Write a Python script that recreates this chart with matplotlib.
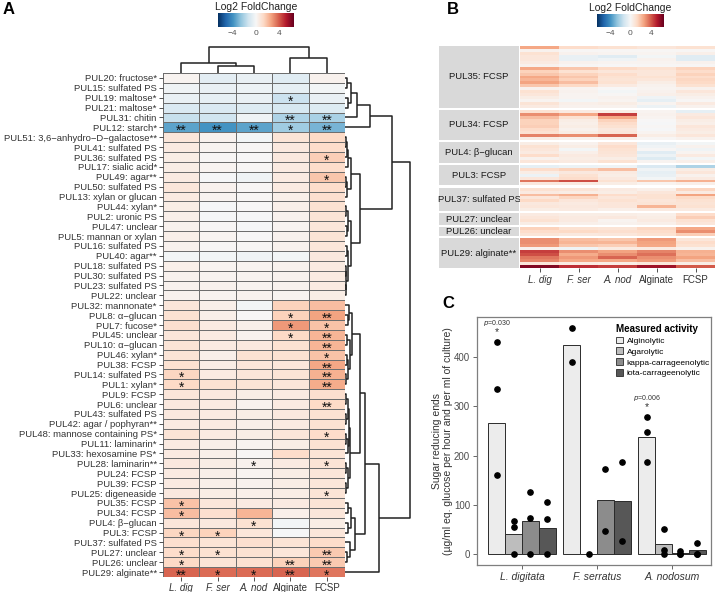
import numpy as np
import matplotlib
matplotlib.use("Agg")
import matplotlib.pyplot as plt
from matplotlib.colors import Normalize
from matplotlib.patches import Patch

plt.rcParams['font.family'] = ['Liberation Sans', 'DejaVu Sans']

# ---------------- panel A data ----------------
pul_labels = [
    "PUL20: fructose*", "PUL15: sulfated PS", "PUL19: maltose*", "PUL21: maltose*",
    "PUL31: chitin", "PUL12: starch*", "PUL51: 3,6\u2212anhydro\u2212D\u2212galactose**",
    "PUL41: sulfated PS", "PUL36: sulfated PS", "PUL17: sialic acid*", "PUL49: agar**",
    "PUL50: sulfated PS", "PUL13: xylan or glucan", "PUL44: xylan*", "PUL2: uronic PS",
    "PUL47: unclear", "PUL5: mannan or xylan", "PUL16: sulfated PS", "PUL40: agar**",
    "PUL18: sulfated PS", "PUL30: sulfated PS", "PUL23: sulfated PS", "PUL22: unclear",
    "PUL32: mannonate*", "PUL8: \u03b1\u2212glucan", "PUL7: fucose*", "PUL45: unclear",
    "PUL10: \u03b1\u2212glucan", "PUL46: xylan*", "PUL38: FCSP", "PUL14: sulfated PS",
    "PUL1: xylan*", "PUL9: FCSP", "PUL6: unclear", "PUL43: sulfated PS",
    "PUL42: agar / pophyran**", "PUL48: mannose containing PS*", "PUL11: laminarin*",
    "PUL33: hexosamine PS*", "PUL28: laminarin**", "PUL24: FCSP", "PUL39: FCSP",
    "PUL25: digeneaside", "PUL35: FCSP", "PUL34: FCSP", "PUL4: \u03b2\u2212glucan", "PUL3: FCSP",
    "PUL37: sulfated PS", "PUL27: unclear", "PUL26: unclear", "PUL29: alginate**",
]
conditions = ["L. dig", "F. ser", "A. nod", "Alginate", "FCSP"]
lfc_a = np.array([
    [0.2, -0.7, -0.5, -0.8, 0.3],
    [-0.3, -0.5, -0.4, -0.6, -0.2],
    [-0.5, -0.6, -0.5, -1.4, -0.5],
    [-1.0, -1.0, -0.9, -1.1, -0.9],
    [-1.5, -1.3, -0.3, -2.0, -2.1],
    [-3.5, -3.9, -3.5, -2.3, -3.0],
    [0.8, 0.3, -0.2, 0.9, 1.3],
    [0.6, 0.2, 0.1, 0.7, 1.2],
    [0.5, 0.1, 0.0, 0.7, 1.6],
    [0.5, 0.2, 0.1, 0.6, 1.2],
    [0.6, -0.1, -0.3, 0.6, 1.8],
    [0.8, 0.3, 0.1, 0.6, 1.2],
    [0.6, 0.2, 0.1, 0.4, 1.1],
    [0.5, -0.1, 0.0, 0.4, 1.0],
    [0.4, -0.1, -0.1, 0.3, 0.9],
    [0.3, 0.1, -0.1, 0.2, 0.8],
    [0.4, 0.2, 0.0, 0.3, 0.9],
    [0.3, 0.1, 0.1, 0.3, 0.8],
    [-0.2, -0.2, -0.3, -0.2, 0.7],
    [0.4, 0.2, 0.2, 0.3, 0.6],
    [0.3, 0.2, 0.2, 0.3, 0.6],
    [0.3, 0.3, 0.2, 0.3, 0.6],
    [0.3, 0.2, 0.3, 0.2, 0.5],
    [0.8, 0.4, -0.2, 1.5, 2.0],
    [1.0, 0.4, 0.0, 1.5, 2.6],
    [1.1, 0.6, 0.4, 2.8, 1.9],
    [0.8, 0.6, 0.3, 1.3, 2.2],
    [0.9, 0.6, 0.7, 1.0, 2.2],
    [0.9, 0.4, 1.0, 1.0, 1.9],
    [1.0, 0.5, 0.8, 0.8, 2.5],
    [1.4, 0.6, 0.8, 0.9, 2.3],
    [1.3, 1.0, 0.9, 0.8, 2.4],
    [0.8, 0.7, 0.5, 0.6, 1.1],
    [0.7, 0.6, 0.3, 0.6, 1.3],
    [0.7, 0.6, 0.5, 0.7, 1.0],
    [0.6, 0.6, 0.4, 0.6, 1.0],
    [0.9, 0.6, 0.5, 0.8, 1.2],
    [0.6, 0.4, 0.2, 0.5, 1.0],
    [0.6, 0.4, 0.1, 1.2, 0.9],
    [0.7, 0.5, 0.3, 0.6, 0.9],
    [0.6, 0.4, 0.2, 0.5, 0.8],
    [0.6, 0.4, 0.3, 0.5, 0.8],
    [0.7, 0.5, 0.4, 0.5, 0.9],
    [1.9, 0.8, 0.6, 0.6, 0.9],
    [2.0, 1.1, 2.2, 0.4, 0.8],
    [0.8, 0.7, 1.0, -0.2, 0.5],
    [1.4, 1.5, 0.8, -0.1, 0.8],
    [1.1, 0.9, 1.1, 0.9, 1.2],
    [1.2, 1.0, 1.0, 0.8, 1.7],
    [1.3, 0.9, 1.0, 1.5, 1.7],
    [3.8, 3.7, 3.7, 3.8, 3.5],
])
# significance marks per cell (row: {column: mark})
sig_a = {
    2: {3: "*"}, 4: {3: "**", 4: "**"}, 5: {0: "**", 1: "**", 2: "**", 3: "*", 4: "**"},
    8: {4: "*"}, 10: {4: "*"}, 24: {3: "*", 4: "**"}, 25: {3: "*", 4: "*"},
    26: {3: "*", 4: "**"}, 27: {4: "**"}, 28: {4: "*"}, 29: {4: "**"},
    30: {0: "*", 4: "**"}, 31: {0: "*", 4: "**"}, 33: {4: "**"}, 36: {4: "*"},
    39: {2: "*", 4: "*"}, 42: {4: "*"}, 43: {0: "*"}, 44: {0: "*"}, 45: {2: "*"},
    46: {0: "*", 1: "*"}, 48: {0: "*", 1: "*", 4: "**"}, 49: {0: "*", 3: "**", 4: "**"},
    50: {0: "**", 1: "*", 2: "*", 3: "**", 4: "*"},
}
# cluster trees: (left, right, height)
col_tree = ((0, (1, 2, 0.28), 0.40), (3, 4, 0.56), 1.0)
t_top = ((((0, 1, 0.03), (2, 3, 0.05), 0.09), 4, 0.18), 5, 0.38)
c6 = ((((6, 7, 0.02), 8, 0.03), 9, 0.04), ((10, 11, 0.02), 12, 0.03), 0.09)
c13 = (((13, 14, 0.02), (15, 16, 0.03), 0.05),
       ((17, 18, 0.03), ((19, 20, 0.01), (21, 22, 0.01), 0.02), 0.05), 0.09)
c23 = ((23, (24, 25, 0.04), 0.06),
       ((26, 27, 0.03), ((28, 29, 0.03), (30, 31, 0.02), 0.05), 0.07), 0.11)
c32 = ((((32, 33, 0.02), (34, 35, 0.02), 0.04), ((36, 37, 0.02), 38, 0.04), 0.06),
       ((39, 40, 0.02), (41, 42, 0.02), 0.05), 0.08)
c43 = (((43, 44, 0.05), (45, 46, 0.04), 0.09), (47, (48, 49, 0.03), 0.07), 0.15)
row_tree = ((t_top, (c6, c13, 0.23), 0.72),
            ((((c23, c32, 0.23), c43, 0.31)), 50, 0.52), 1.0)

# ---------------- panel B data ----------------
b_groups = ["PUL35: FCSP", "PUL34: FCSP", "PUL4: \u03b2\u2212glucan", "PUL3: FCSP",
            "PUL37: sulfated PS", "PUL27: unclear", "PUL26: unclear", "PUL29: alginate**"]
b_values = [
    [[2.5, 1.2, 1.0, 0.8, 1.0], [0.3, 0.1, 0.1, 0.1, 0.1], [1.0, 0.3, 0.2, 0.2, 0.4],
     [0.8, -0.5, -0.8, -0.2, -0.8], [0.8, -0.5, -0.3, 0.3, -0.8], [0.6, 0.3, 0.2, 0.2, 0.3],
     [0.3, 0.1, 0.0, 0.1, 0.1], [2.5, 1.8, 1.3, 1.0, 1.5], [1.5, 1.0, 0.8, 0.8, 1.2],
     [1.8, 1.5, 1.2, 0.8, 1.5], [2.5, 1.8, 1.0, 1.0, 1.2], [2.2, 1.5, 0.9, 0.8, 1.4],
     [2.6, 2.0, 1.0, 0.5, 1.3], [1.8, 1.3, 0.6, 0.3, 1.0], [0.3, 0.2, 0.0, 0.2, 0.3],
     [1.0, 0.3, -0.2, 0.3, 0.8], [0.8, 0.2, 0.1, 0.4, 0.5], [0.5, 0.2, 0.3, -0.3, 0.3],
     [0.2, -0.2, 0.2, -0.6, 0.1], [0.9, 0.4, 0.5, 0.2, 0.6], [0.6, 0.3, 0.3, -0.4, 0.3]],
    [[1.0, 0.6, 0.5, 0.2, -0.6], [3.0, 2.5, 4.5, 0.3, 0.6], [2.0, 1.0, 2.5, 0.2, 0.8],
     [1.5, 0.5, 1.5, 0.0, 0.5], [1.5, 0.4, 1.2, -0.1, 0.4], [1.6, 0.5, 1.0, 0.1, 0.8],
     [1.2, 0.3, 0.7, -0.1, 0.6], [1.0, 0.5, 0.8, 0.2, 0.5], [3.2, 3.0, 3.8, 0.5, 0.8],
     [0.5, 0.3, 0.4, 0.1, 0.3]],
    [[0.5, 0.3, 0.8, -0.5, -0.2], [1.0, 0.5, 1.2, -0.3, 0.3], [0.8, -0.2, 1.0, 0.1, -0.3],
     [0.6, 0.4, 0.9, -0.8, 0.2], [1.2, 0.6, 0.8, -0.4, 0.6], [0.3, 0.5, 0.5, -0.9, -0.2],
     [0.8, 0.6, 1.0, 0.2, 0.4]],
    [[-0.6, -0.4, -0.3, -1.0, -2.0], [1.2, 1.5, 2.0, -0.3, 0.5], [0.5, 0.7, 0.6, -0.6, 0.8],
     [-0.4, 1.0, 0.5, -0.5, 0.3], [0.8, 1.2, 0.7, -0.2, 0.6], [3.5, 4.2, 1.0, 1.8, 2.3],
     [0.7, 0.6, 0.5, 0.2, 0.4]],
    [[1.0, 0.9, 0.6, 0.4, 1.4], [0.6, 0.5, 0.5, 0.8, 0.6], [2.0, 2.3, 1.2, 1.0, 2.6],
     [0.8, 1.4, 0.8, 1.0, 1.3], [1.3, 0.8, 1.0, 0.8, 1.0], [0.7, 0.6, 0.8, 0.9, 0.9],
     [0.8, 0.7, 0.8, 2.2, 1.0], [0.5, 0.6, 0.4, 0.6, 0.6]],
    [[0.6, 0.5, 0.5, 0.4, 1.2], [0.8, 0.6, 0.7, 0.5, 1.6], [1.0, 0.6, 0.2, 0.6, 1.0],
     [0.5, 0.4, 0.3, 0.4, 0.8]],
    [[1.5, 1.0, 0.9, 1.4, 2.5], [1.2, 1.3, 1.1, 1.2, 3.0], [0.9, 0.7, 0.8, 1.0, 1.6]],
    [[3.0, 2.0, 1.8, 2.8, 0.8], [3.0, 2.2, 2.2, 2.6, 1.2], [2.8, 1.8, 1.6, 2.5, 1.0],
     [0.3, -0.3, 0.6, 0.6, 0.3], [4.5, 3.0, 2.6, 3.2, 2.3], [4.2, 2.4, 3.0, 3.6, 2.2],
     [3.5, 2.8, 3.8, 3.0, 2.6], [3.2, 2.5, 2.5, 2.8, 2.0], [0.8, 0.6, 0.5, 0.8, 0.5],
     [6.0, 4.8, 4.5, 5.5, 4.0]],
]

# ---------------- panel C data ----------------
species = ["L. digitata", "F. serratus", "A. nodosum"]
activities = ["Alginolytic", "Agarolytic", "kappa-carrageenolytic", "iota-carrageenolytic"]
bar_means = [[265, 41, 67, 54], [424, 0, 110, 107], [238, 20, 2, 8]]
replicates = [
    [[430, 334, 161], [67, 55, 0], [126, 74, 0], [106, 72, 0]],
    [[459, 389], [0], [172, 47], [186, 27]],
    [[278, 247, 187], [52, 9, 0], [7, 0, 0], [23, 0, 0]],
]
p_labels = {0: "0.030", 2: "0.006"}

# ---------------- layout helpers ----------------
W, H = 717, 592
fig = plt.figure(figsize=(W / 100, H / 100), dpi=100)
fig.patch.set_facecolor("white")
norm = Normalize(-6.5, 6.5)
cmap = plt.get_cmap("RdBu_r")
txt = "#333333"


def box(x0, y0, x1, y1):
    return [x0 / W, 1 - y1 / H, (x1 - x0) / W, (y1 - y0) / H]


def draw_tree(ax, node, vertical):
    if isinstance(node, int):
        return node, 0.0
    left, right, h = node
    p1, h1 = draw_tree(ax, left, vertical)
    p2, h2 = draw_tree(ax, right, vertical)
    ps, hs = [p1, p1, p2, p2], [h1, h, h, h2]
    if vertical:
        ax.plot(ps, hs, color="#222222", lw=1.1, solid_capstyle="butt", clip_on=False)
    else:
        ax.plot(hs, ps, color="#222222", lw=1.1, solid_capstyle="butt", clip_on=False)
    return (p1 + p2) / 2, h


def colorbar(x0, x1, y0, y1):
    cax = fig.add_axes(box(x0, y0, x1, y1))
    grad = np.linspace(-6.5, 6.5, 256)[None, :]
    cax.imshow(grad, aspect="auto", cmap=cmap, norm=norm, extent=[-6.5, 6.5, 0, 1])
    cax.set_yticks([])
    cax.set_xticks([-4, 0, 4])
    cax.set_xticklabels(["\u22124", "0", "4"], fontsize=6, color="#555555")
    cax.tick_params(axis="x", length=0, pad=2)
    for s in cax.spines.values():
        s.set_visible(False)
    fig.text((x0 + x1) / 2 / W, 1 - (y0 - 6) / H, "Log2 FoldChange", fontsize=7.5,
             ha="center", va="center", color="#222222")


# ---------------- panel A ----------------
n_rows = len(pul_labels)
ax = fig.add_axes(box(163, 73, 345, 577))
ax.pcolormesh(np.arange(6) - 0.5, np.arange(n_rows + 1) - 0.5, lfc_a, cmap=cmap, norm=norm,
              edgecolors="#6e6e6e", linewidth=0.5)
ax.set_xlim(-0.5, 4.5)
ax.set_ylim(n_rows - 0.5, -0.5)
ax.set_yticks(range(n_rows))
ax.set_yticklabels(pul_labels, fontsize=6.8, color=txt)
ax.set_xticks(range(5))
ax.set_xticklabels(conditions, fontsize=7, color=txt)
for lab in ax.get_xticklabels()[:3]:
    lab.set_style("italic")
ax.tick_params(length=3, width=0.6, color="#333333", pad=1.5)
for s in ax.spines.values():
    s.set_visible(False)
for i, marks in sig_a.items():
    for j, m in marks.items():
        ax.text(j, i + 0.38, m, ha="center", va="center", fontsize=10, color="#111111")

axc = fig.add_axes(box(163, 47, 345, 73))
draw_tree(axc, col_tree, True)
axc.set_xlim(-0.5, 4.5)
axc.set_ylim(0, 1)
axc.axis("off")

axr = fig.add_axes(box(345, 73, 410, 577))
draw_tree(axr, row_tree, False)
axr.set_ylim(n_rows - 0.5, -0.5)
axr.set_xlim(0, 1)
axr.axis("off")

colorbar(218, 294, 13, 27)
fig.text(9 / W, 1 - 10 / H, "A", fontsize=12, fontweight="bold", va="center", ha="center")

# ---------------- panel B ----------------
counts = [len(v) for v in b_values]
top, bottom, gap = 46, 268, 2.2
unit = (bottom - top - gap * (len(counts) - 1)) / sum(counts)
y = top
for k, (name, vals) in enumerate(zip(b_groups, b_values)):
    hgt = unit * len(vals)
    axs = fig.add_axes(box(439, y, 519, y + hgt))
    axs.set_facecolor("#d9d9d9")
    axs.set_xticks([])
    axs.set_yticks([])
    for s in axs.spines.values():
        s.set_visible(False)
    axs.text(0.5, 0.5, name, ha="center", va="center", fontsize=6.8, color="#1a1a1a",
             transform=axs.transAxes)
    axh = fig.add_axes(box(520, y, 715, y + hgt))
    arr = np.array(vals)
    axh.pcolormesh(np.arange(6) - 0.5, np.arange(len(vals) + 1) - 0.5, arr, cmap=cmap, norm=norm)
    axh.set_ylim(len(vals) - 0.5, -0.5)
    axh.set_xlim(-0.5, 4.5)
    axh.set_yticks([])
    for s in axh.spines.values():
        s.set_visible(False)
    if k == len(b_groups) - 1:
        axh.set_xticks(range(5))
        axh.set_xticklabels(conditions, fontsize=7, color=txt)
        for lab in axh.get_xticklabels()[:3]:
            lab.set_style("italic")
        axh.tick_params(axis="x", length=3, width=0.6, color="#333333", pad=2)
    else:
        axh.set_xticks([])
    y += hgt + gap

colorbar(597, 664, 14, 27)
fig.text(453 / W, 1 - 10 / H, "B", fontsize=12, fontweight="bold", va="center", ha="center")

# ---------------- panel C ----------------
axb = fig.add_axes(box(477, 317, 711, 565))
fills = ["#ececec", "#bdbdbd", "#8c8c8c", "#575757"]
width = 0.9 / len(activities)
for g in range(len(species)):
    for a in range(len(activities)):
        xpos = g + 1 - 0.45 + width * (a + 0.5)
        axb.bar(xpos, bar_means[g][a], width=width, color=fills[a], edgecolor="#2b2b2b",
                linewidth=0.7, zorder=2)
        pts = replicates[g][a]
        axb.plot([xpos] * len(pts), pts, "o", color="black", ms=3.8, zorder=3, clip_on=False)
for g, p in p_labels.items():
    xpos = g + 1 - 0.45 + width * 0.5
    top_val = max(replicates[g][0])
    axb.text(xpos, top_val + 38, "$p$=" + p, ha="center", va="center", fontsize=5, color="#333333")
    axb.text(xpos, top_val + 20, "*", ha="center", va="center", fontsize=7.5, color="#333333")
axb.set_xlim(0.4, 3.52)
axb.set_ylim(-22, 481)
axb.set_xticks([1, 2, 3])
axb.set_xticklabels(species, fontsize=7.5, style="italic", color=txt)
axb.set_yticks([0, 100, 200, 300, 400])
axb.set_yticklabels(["0", "100", "200", "300", "400"], fontsize=7, color="#4d4d4d")
axb.tick_params(length=3, width=0.6, color="#4d4d4d", pad=2)
for s in axb.spines.values():
    s.set_color("#7f7f7f")
    s.set_linewidth(0.9)
axb.set_ylabel("Sugar reducing ends\n(\u00b5g/ml eq. glucose per hour and per ml of culture)",
               fontsize=7.5, color=txt, labelpad=1, linespacing=1.05)
handles = [Patch(facecolor=fills[a], edgecolor="#2b2b2b", linewidth=0.6, label=activities[a])
           for a in range(len(activities))]
leg = axb.legend(handles=handles, title="Measured activity", loc="upper right", frameon=False,
                 fontsize=6, title_fontsize=7, handlelength=0.9, handleheight=0.9,
                 handletextpad=0.4, labelspacing=0.3, borderaxespad=0.0, alignment="left",
                 bbox_to_anchor=(1.01, 0.985))
leg.get_title().set_fontweight("bold")
fig.text(448 / W, 1 - 303 / H, "C", fontsize=12, fontweight="bold", va="center", ha="center")

fig.savefig("out.png", dpi=100)
